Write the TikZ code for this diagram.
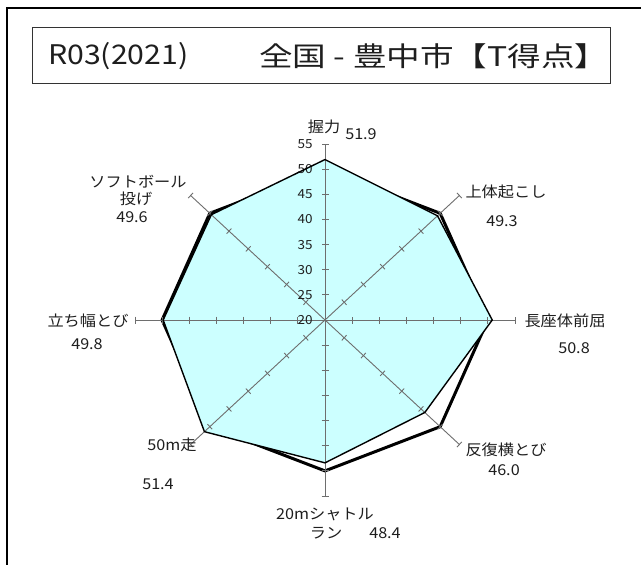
\documentclass[tikz,border=0pt]{standalone}
\usepackage{fontspec}
\setmainfont{Noto Sans CJK JP}
\usetikzlibrary{calc}
\definecolor{cyanfill}{RGB}{204,255,255}
\definecolor{axisgray}{RGB}{110,110,110}
\definecolor{txt}{RGB}{30,30,30}
\newcommand{\hstretch}[1]{\scalebox{1.08}[1]{#1}}
\tikzset{
  frameline/.style={line width=1.6pt, black},
  axisline/.style={line width=0.9pt, axisgray},
  natline/.style={line width=3pt, black, line join=round},
  cityfill/.style={fill=cyanfill},
  cityline/.style={line width=1.4pt, black, line join=round},
  lab/.style={font=\fontsize{15}{15}\selectfont, text=txt, inner sep=0pt},
  scalenum/.style={font=\fontsize{12.5}{12.5}\selectfont, text=txt, inner sep=0pt},
  titlefont/.style={font=\fontsize{27}{27}\selectfont, text=txt, inner sep=0pt},
}
\begin{document}
\begin{tikzpicture}[x=1pt,y=-1pt]
\useasboundingbox (0,0) rectangle (641,565);
\fill[white] (0,0) rectangle (641,565);
\draw[frameline] (7,565) -- (7,8) -- (641,8);
\node[draw=black!80, line width=1.4pt, minimum width=578pt, minimum height=56pt,
      anchor=north west, inner sep=0pt] (titlebox) at (32,27) {};
\node[titlefont, anchor=west] (titleA) at (48,56) {\scalebox{1.12}[1]{R03(2021)}};
\node[titlefont, anchor=west] (titleB) at (259,56) {\scalebox{1.245}[1]{全国 - 豊中市【T得点】}};

\begin{scope}[shift={(325,320)}, x=5.43pt, y=5.03pt]
  \coordinate (C) at (0,0);
  \foreach \i in {0,...,7} { \coordinate (E\i) at ({90-45*\i}:35); }
  % national average (T=50)
  \draw[natline] (90:30) -- (45:30) -- (0:30) -- (-45:30) -- (-90:30) -- (-135:30) -- (180:30) -- (135:30) -- cycle;
  % city fill
  \fill[cityfill] (90:31.9) -- (45:29.3) -- (0:30.8) -- (-45:26) -- (-90:28.4) -- (-135:31.4) -- (180:29.8) -- (135:29.6) -- cycle;
  % axes
  \foreach \i in {0,...,7} {
    \draw[axisline] (C) -- (E\i);
    \foreach \k in {1,...,7} {
      \coordinate (P) at ({90-45*\i}:{5*\k});
      \draw[axisline] ($(P)!3.5pt!90:(C)$) -- ($(P)!3.5pt!-90:(C)$);
    }
  }
  % scale numbers
  \foreach \v in {20,25,...,55} {
    \node[scalenum] (s\v) at ([xshift=-20pt]0,{\v-20}) {\hstretch{\v}};
  }
  % city border
  \draw[cityline] (90:31.9) -- (45:29.3) -- (0:30.8) -- (-45:26) -- (-90:28.4) -- (-135:31.4) -- (180:29.8) -- (135:29.6) -- cycle;
\end{scope}

% labels
\node[lab] (l1) at (324,127) {\hstretch{握力}};
\node[lab] (v1) at (361,134) {\hstretch{51.9}};
\node[lab] (l2) at (506,192) {\hstretch{上体起こし}};
\node[lab] (v2) at (502,221) {\hstretch{49.3}};
\node[lab] (l3) at (565,321) {\hstretch{長座体前屈}};
\node[lab] (v3) at (574,348) {\hstretch{50.8}};
\node[lab] (l4) at (506,450) {\hstretch{反復横とび}};
\node[lab] (v4) at (504,470) {\hstretch{46.0}};
\node[lab] (l5a) at (325,514) {\hstretch{20mシャトル}};
\node[lab] (l5b) at (326,533) {\hstretch{ラン}};
\node[lab] (v5) at (385,533) {\hstretch{48.4}};
\node[lab] (l6) at (172,445) {\hstretch{50m走}};
\node[lab] (v6) at (158,484) {\hstretch{51.4}};
\node[lab] (l7) at (88,321) {\hstretch{立ち幅とび}};
\node[lab] (v7) at (87,344) {\hstretch{49.8}};
\node[lab] (l8a) at (138,182) {\hstretch{ソフトボール}};
\node[lab] (l8b) at (136,199) {\hstretch{投げ}};
\node[lab] (v8) at (132,217) {\hstretch{49.6}};
\end{tikzpicture}
\end{document}
